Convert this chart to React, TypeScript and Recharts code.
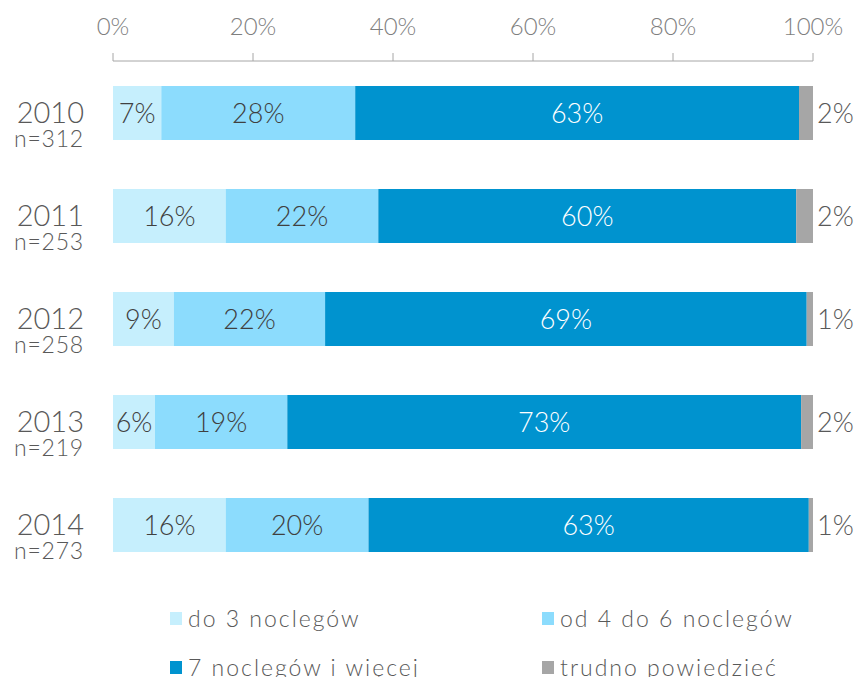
import { Bar, BarChart, LabelList, Legend, XAxis, YAxis } from "recharts";

const years = ["2010", "2011", "2012", "2013", "2014"];
const sampleSizes = [312, 253, 258, 219, 273];
const upTo3 = [6.9, 16.1, 8.7, 6.0, 16.1];
const from4to6 = [27.7, 21.8, 21.6, 18.9, 20.4];
const sevenPlus = [63.4, 59.7, 68.8, 73.4, 62.9];
const hardToSay = [2.0, 2.4, 0.9, 1.7, 0.6];
const xTicks = [0, 20, 40, 60, 80, 100];

const seriesNames = [
  "do 3 noclegów",
  "od 4 do 6 noclegów",
  "7 noclegów i więcej",
  "trudno powiedzieć",
];
const colors = ["#c6effd", "#8cdcfd", "#0093cf", "#a6a6a6"];

const chartData = years.map((year, i) => ({
  year,
  n: sampleSizes[i],
  upTo3: upTo3[i],
  from4to6: from4to6[i],
  sevenPlus: sevenPlus[i],
  hardToSay: hardToSay[i],
}));

const FONT = "Lato, 'Open Sans', sans-serif";
const TEXT = "#595959";

const pct = (v: any) => `${Math.round(Number(v))}%`;

function XTick({ x, payload }: any) {
  return (
    <text
      x={x}
      y={35}
      textAnchor="middle"
      fontSize={24}
      fontFamily={FONT}
      fontWeight={300}
      fill="#7f7f7f"
    >
      {payload.value}%
    </text>
  );
}

// year on top, sample size below, both right-aligned next to the bars
function YTick({ y, payload, index }: any) {
  return (
    <g>
      <text
        x={84}
        y={y + 10}
        textAnchor="end"
        fontSize={29}
        fontFamily={FONT}
        fontWeight={300}
        fill={TEXT}
      >
        {payload.value}
      </text>
      <text
        x={84}
        y={y + 34}
        textAnchor="end"
        fontSize={23}
        fontFamily={FONT}
        fontWeight={300}
        fill={TEXT}
        letterSpacing={0.8}
      >
        n={sampleSizes[index]}
      </text>
    </g>
  );
}

function LegendBox() {
  const pos = [
    { left: 170, top: 31 },
    { left: 542, top: 31 },
    { left: 170, top: 80 },
    { left: 542, top: 80 },
  ];
  return (
    <div style={{ position: "relative", height: 101, width: 857 }}>
      {seriesNames.map((name, i) => (
        <div
          key={name}
          style={{
            position: "absolute",
            left: pos[i].left,
            top: pos[i].top,
            display: "flex",
            alignItems: "center",
            gap: 6,
            fontFamily: FONT,
            fontWeight: 300,
            fontSize: 23,
            letterSpacing: 2,
            color: TEXT,
            whiteSpace: "nowrap",
            lineHeight: "22px",
          }}
        >
          <span
            style={{
              display: "inline-block",
              width: 12,
              height: 13,
              background: colors[i],
            }}
          />
          {name}
        </div>
      ))}
    </div>
  );
}

export default function App() {
  return (
    <div style={{ position: "absolute", left: 0, top: 0, background: "#fff" }}>
      <BarChart
        width={857}
        height={677}
        data={chartData}
        layout="vertical"
        margin={{ top: 0, right: 44, left: 0, bottom: 0 }}
        barSize={54}
      >
        <XAxis
          type="number"
          orientation="top"
          domain={[0, 100]}
          ticks={xTicks}
          height={61}
          axisLine={{ stroke: "#a6a6a6" }}
          tickLine={{ stroke: "#a6a6a6" }}
          tickSize={8}
          tick={<XTick />}
          allowDataOverflow
        />
        <YAxis
          type="category"
          dataKey="year"
          width={113}
          axisLine={false}
          tickLine={false}
          tick={<YTick />}
        />
        <Legend
          verticalAlign="bottom"
          height={101}
          content={() => <LegendBox />}
        />
        <Bar dataKey="upTo3" stackId="a" fill={colors[0]} isAnimationActive={false}>
          <LabelList
            dataKey="upTo3"
            position="center"
            formatter={pct}
            fill="#404040"
            fontSize={27}
            fontFamily={FONT}
            fontWeight={300}
          />
        </Bar>
        <Bar dataKey="from4to6" stackId="a" fill={colors[1]} isAnimationActive={false}>
          <LabelList
            dataKey="from4to6"
            position="center"
            formatter={pct}
            fill="#404040"
            fontSize={27}
            fontFamily={FONT}
            fontWeight={300}
          />
        </Bar>
        <Bar dataKey="sevenPlus" stackId="a" fill={colors[2]} isAnimationActive={false}>
          <LabelList
            dataKey="sevenPlus"
            position="center"
            formatter={pct}
            fill="#ffffff"
            fontSize={27}
            fontFamily={FONT}
            fontWeight={300}
          />
        </Bar>
        <Bar dataKey="hardToSay" stackId="a" fill={colors[3]} isAnimationActive={false}>
          <LabelList
            dataKey="hardToSay"
            position="right"
            offset={4}
            formatter={pct}
            fill={TEXT}
            fontSize={27}
            fontFamily={FONT}
            fontWeight={300}
          />
        </Bar>
      </BarChart>
    </div>
  );
}
